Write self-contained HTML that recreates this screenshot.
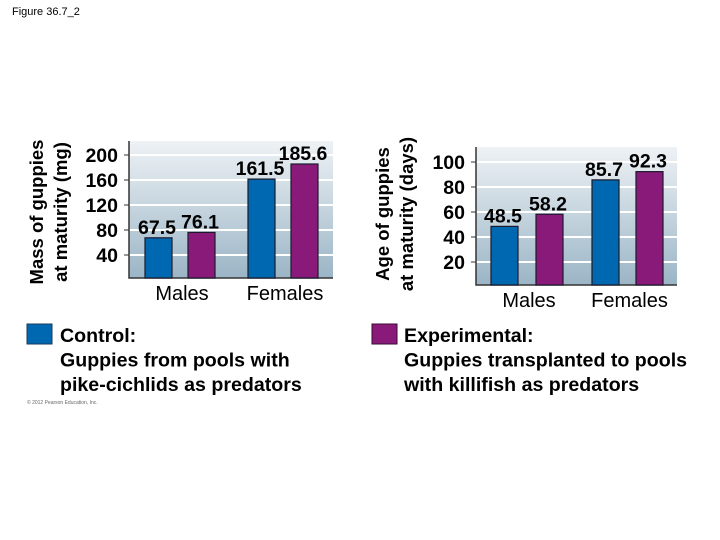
<!DOCTYPE html>
<html><head><meta charset="utf-8"><style>
body{margin:0;background:#fff}
svg{display:block;font-family:"Liberation Sans",Arial,sans-serif}
.b{font-weight:bold}
</style></head><body>
<svg id="s" width="720" height="540" viewBox="0 0 720 540">
<defs>
<linearGradient id="bg" x1="0" y1="0" x2="0" y2="1">
<stop offset="0" stop-color="#eef2f5"/><stop offset="1" stop-color="#9bb5c6"/>
</linearGradient>
</defs>
<text x="12" y="15" font-size="11" fill="#000">Figure 36.7_2</text>
<g id="c1"></g>
<g id="c2"></g>
<g>
<rect x="27" y="324" width="25" height="20" fill="#0068b0" stroke="#1a3a5a" stroke-width="1"/>
<text class="b" font-size="19.6" x="60" y="342"><tspan x="60">Control:</tspan><tspan x="60" dy="24.5">Guppies from pools with</tspan><tspan x="60" dy="24.5">pike-cichlids as predators</tspan></text>
</g>
<g>
<rect x="372" y="324" width="25" height="20" fill="#8a1a7a" stroke="#3a0a30" stroke-width="1"/>
<text class="b" font-size="19.6" x="404" y="342"><tspan x="404">Experimental:</tspan><tspan x="404" dy="24.5">Guppies transplanted to pools</tspan><tspan x="404" dy="24.5">with killifish as predators</tspan></text>
</g>
<text x="27" y="404" font-size="5" fill="#666">© 2012 Pearson Education, Inc.</text>
</svg>
<script>
const categories=["Males","Females"];
const massControl=[67.5,161.5];
const massExperimental=[76.1,185.6];
const massTicks=[40,80,120,160,200];
const ageControl=[48.5,85.7];
const ageExperimental=[58.2,92.3];
const ageTicks=[20,40,60,80,100];

const NS="http://www.w3.org/2000/svg";
function mk(p,t,a,txt){const e=document.createElementNS(NS,t);for(const k in a)e.setAttribute(k,a[k]);if(txt!==undefined)e.textContent=txt;p.appendChild(e);return e;}

function chart(g,cfg){
  const {x0,x1,top,bottom,base,ppu,ticks,ctrl,exp,bars,labelY,title1,title2,tx1,tx2,ty}=cfg;
  const y=v=>base-v*ppu;
  const bgr=mk(g,'rect',{x:x0,y:top,width:x1-x0,height:bottom-top,fill:'url(#bg)'});
  
  
  ticks.forEach(t=>{
    const l=mk(g,'line',{x1:x0,x2:x1,y1:y(t),y2:y(t),stroke:'#fff','stroke-width':2});
    
    
    const tk=mk(g,'line',{x1:x0-5,x2:x0,y1:y(t),y2:y(t),stroke:'#333','stroke-width':1});
    
    
    const tl=mk(g,'text',{x:x0-11,y:y(t)+7,'text-anchor':'end','font-size':19.5,'font-weight':'bold'},String(t));
    
    
  });
  const ax=mk(g,'polyline',{points:`${x0},${top} ${x0},${bottom} ${x1},${bottom}`,fill:'none',stroke:'#333','stroke-width':1.5});
  
  
  categories.forEach((c,i)=>{
    [[ctrl[i],'#0068b0',bars[i][0],'control'],[exp[i],'#8a1a7a',bars[i][1],'experimental']].forEach(([v,col,bx,nm])=>{
      const r=mk(g,'rect',{x:bx,y:y(v),width:27,height:bottom-y(v),fill:col,stroke:'#1a1a2a','stroke-width':1.2});
      
      
      const tv=mk(g,'text',{x:bx+12,y:y(v)-4,'text-anchor':'middle','font-size':19.5,'font-weight':'bold'},String(v));
      
      
    });
    const cx=(bars[i][0]+bars[i][1]+27)/2+2;
    const cl=mk(g,'text',{x:cx,y:labelY,'text-anchor':'middle','font-size':20},c);
    
    
  });
  const t=mk(g,'text',{'font-size':18.5,'font-weight':'bold','text-anchor':'middle',transform:`rotate(-90)`});
  
  
  mk(t,'tspan',{x:-ty,y:tx1},title1);
  mk(t,'tspan',{x:-ty,y:tx2},title2);
}
chart(document.getElementById('c1'),{x0:129,x1:333,top:141,bottom:278,base:280,ppu:0.625,ticks:massTicks,ctrl:massControl,exp:massExperimental,bars:[[145,188],[248,291]],labelY:300,title1:'Mass of guppies',title2:'at maturity (mg)',tx1:43,tx2:67,ty:212});
chart(document.getElementById('c2'),{x0:476,x1:677,top:147,bottom:285,base:287,ppu:1.25,ticks:ageTicks,ctrl:ageControl,exp:ageExperimental,bars:[[491,536],[592,636]],labelY:307,title1:'Age of guppies',title2:'at maturity (days)',tx1:389,tx2:413,ty:214});
</script>
</body></html>
